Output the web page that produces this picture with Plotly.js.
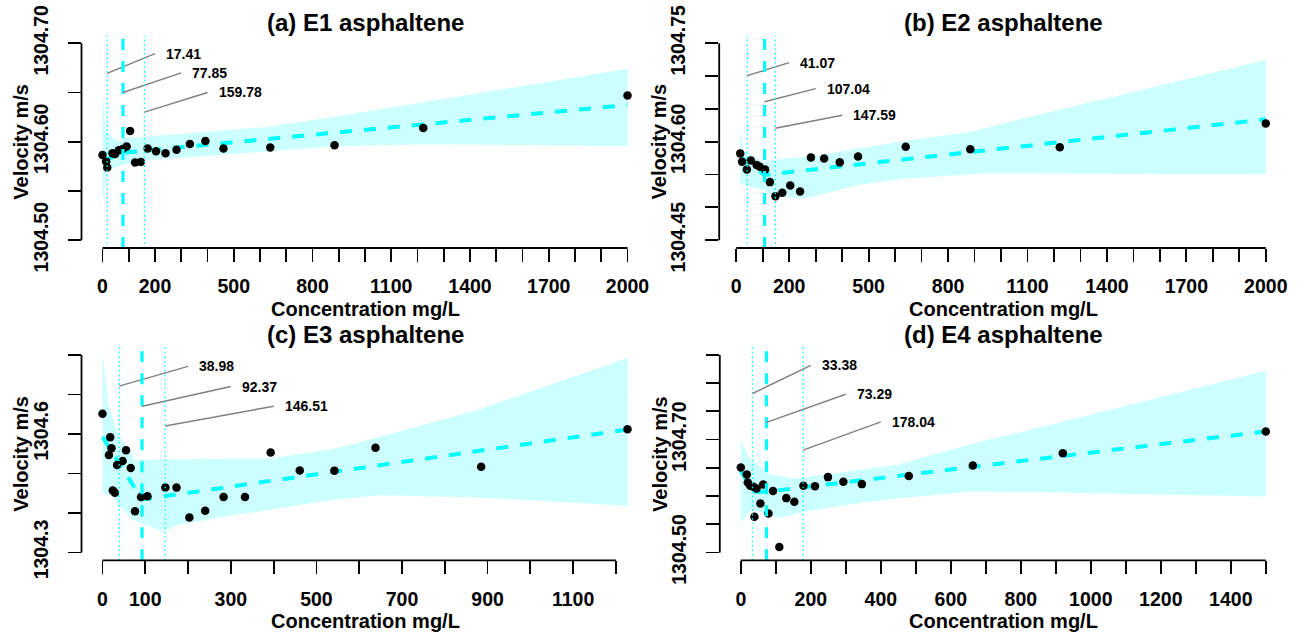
<!DOCTYPE html>
<html><head><meta charset="utf-8">
<script src="https://cdn.plot.ly/plotly-3.0.1.min.js"></script>
<style>html,body{margin:0;padding:0;background:#fff}#chart{width:1300px;height:636px}</style>
</head><body><div id="chart"></div>
<script>
// ---------- DATA ----------
// (a) E1
const concE1 = [0, 14, 18, 38, 48, 62, 77, 92, 105, 124, 146, 172, 204, 240, 282, 333, 392, 461, 639, 884, 1222, 2000];
const velE1  = [1304.5864, 1304.5800, 1304.5739, 1304.5882, 1304.5874, 1304.5912, 1304.5925, 1304.5952, 1304.6108, 1304.5788, 1304.5795, 1304.5932, 1304.5903, 1304.5882, 1304.5918, 1304.5976, 1304.6007, 1304.5930, 1304.5942, 1304.5965, 1304.6140, 1304.6470];
const fitXE1 = [0, 77.85, 2000];
const fitYE1 = [1304.5806, 1304.5888, 1304.6373];
const upXE1 = [0, 13, 40, 75, 80, 155, 625, 880, 1060, 2000];
const upYE1 = [1304.649, 1304.612, 1304.604, 1304.600, 1304.604, 1304.605, 1304.615, 1304.625, 1304.633, 1304.674];
const loXE1 = [0, 16, 79, 160, 625, 880, 1240, 2000];
const loYE1 = [1304.5356, 1304.571, 1304.5765, 1304.581, 1304.590, 1304.5955, 1304.5975, 1304.5956];
const bpE1 = [17.41, 77.85, 159.78];

// (b) E2
const concE2 = [15, 22, 40, 55, 77, 89, 109, 127, 148, 174, 204, 241, 282, 332, 391, 460, 640, 884, 1222, 2000];
const velE2  = [1304.5822, 1304.5694, 1304.5578, 1304.5715, 1304.5644, 1304.5618, 1304.5578, 1304.5384, 1304.5170, 1304.5221, 1304.5334, 1304.5242, 1304.5761, 1304.5745, 1304.5685, 1304.5773, 1304.5923, 1304.5885, 1304.5914, 1304.6278];
const fitXE2 = [15, 107.04, 2000];
const fitYE2 = [1304.577, 1304.5495, 1304.6341];
const upXE2 = [15, 27, 100, 146, 285, 620, 900, 1000, 2000];
const upYE2 = [1304.623, 1304.587, 1304.570, 1304.573, 1304.578, 1304.600, 1304.616, 1304.627, 1304.7245];
const loXE2 = [15, 52, 100, 146, 250, 290, 460, 640, 930, 2000];
const loYE2 = [1304.536, 1304.531, 1304.527, 1304.517, 1304.514, 1304.516, 1304.534, 1304.544, 1304.5517, 1304.5506];
const bpE2 = [41.07, 107.04, 147.59];

// (c) E3
const concE3 = [0, 15, 18, 21, 24, 29, 34, 47, 55, 66, 76, 90, 105, 147, 173, 203, 240, 283, 333, 393, 461, 542, 638, 885, 1227];
const velE3  = [1304.6512, 1304.5466, 1304.5913, 1304.5635, 1304.4568, 1304.4513, 1304.5213, 1304.5314, 1304.5585, 1304.5137, 1304.4041, 1304.4403, 1304.4421, 1304.4645, 1304.4640, 1304.3886, 1304.4053, 1304.4403, 1304.4403, 1304.5530, 1304.5074, 1304.5070, 1304.5652, 1304.5166, 1304.6120];
const fitXE3 = [0, 92.37, 1227];
const fitYE3 = [1304.5925, 1304.4341, 1304.6112];
const upXE3 = [0, 9, 14, 23, 29, 45, 68, 75, 92, 150, 390, 540, 650, 880, 1227];
const upYE3 = [1304.806, 1304.716, 1304.668, 1304.645, 1304.618, 1304.584, 1304.551, 1304.534, 1304.534, 1304.535, 1304.538, 1304.562, 1304.593, 1304.662, 1304.792];
const loXE3 = [0, 22, 37, 53, 68, 88, 134, 146, 175, 282, 540, 650, 880, 1227];
const loYE3 = [1304.448, 1304.446, 1304.420, 1304.403, 1304.384, 1304.375, 1304.356, 1304.355, 1304.369, 1304.390, 1304.433, 1304.445, 1304.439, 1304.418];
const bpE3 = [38.98, 92.37, 146.51];

// (d) E4
const concE4 = [0, 17, 20, 27, 36, 39, 45, 56, 64, 79, 92, 110, 130, 153, 179, 212, 249, 293, 346, 480, 663, 920, 1500];
const velE4  = [1304.6506, 1304.6382, 1304.6240, 1304.6180, 1304.6162, 1304.5631, 1304.6134, 1304.5868, 1304.6205, 1304.5688, 1304.6088, 1304.5097, 1304.5962, 1304.5896, 1304.6180, 1304.6171, 1304.6334, 1304.6251, 1304.6210, 1304.6355, 1304.6538, 1304.6759, 1304.7143];
const fitXE4 = [0, 41, 73.29, 1500];
const fitYE4 = [1304.6435, 1304.6074, 1304.6074, 1304.7144];
const upXE4 = [0, 26, 64, 74, 112, 150, 180, 445, 669, 826, 1500];
const upYE4 = [1304.698, 1304.666, 1304.648, 1304.640, 1304.635, 1304.631, 1304.633, 1304.655, 1304.694, 1304.717, 1304.822];
const loXE4 = [0, 30, 55, 109, 180, 350, 455, 660, 826, 1500];
const loYE4 = [1304.553, 1304.575, 1304.572, 1304.561, 1304.572, 1304.589, 1304.596, 1304.608, 1304.607, 1304.599];
const bpE4 = [33.38, 73.29, 178.04];

// tick labels
const xLabE1 = [0, 200, 500, 800, 1100, 1400, 1700, 2000];
const xLabE2 = [0, 200, 500, 800, 1100, 1400, 1700, 2000];
const xLabE3 = [0, 100, 300, 500, 700, 900, 1100];
const xLabE4 = [0, 200, 400, 600, 800, 1000, 1200, 1400];
const yLabE1 = [1304.50, 1304.60, 1304.70];
const yLabE2 = [1304.45, 1304.60, 1304.75];
const yLabE3 = [1304.3, 1304.6];
const yLabE4 = [1304.50, 1304.70];

const titles = ['(a) E1 asphaltene', '(b) E2 asphaltene', '(c) E3 asphaltene', '(d) E4 asphaltene'];
const xTitle = 'Concentration mg/L';
const yTitle = 'Velocity m/s';

// ---------- LAYOUT (pixel geometry of the panels) ----------
const W = 1300, H = 636;
const FONT = 'Liberation Sans, Arial, Helvetica, sans-serif';
const panels = [
  {conc: concE1, vel: velE1, fx: fitXE1, fy: fitYE1, ux: upXE1, uy: upYE1, lx: loXE1, ly: loYE1, bp: bpE1,
   xlim: [0, 2000], xTickMax: 2000, xLab: xLabE1, ylim: [1304.50, 1304.70], yStep: 0.05, yLab: yLabE1, dec: 2,
   box: [81.5, 648.5, 35.4, 248.0], segY: [1304.6695, 1304.650, 1304.630], rise: 0.02},
  {conc: concE2, vel: velE2, fx: fitXE2, fy: fitYE2, ux: upXE2, uy: upYE2, lx: loXE2, ly: loYE2, bp: bpE2,
   xlim: [15, 2000], xTickMax: 2000, xLab: xLabE2, ylim: [1304.45, 1304.75], yStep: 0.05, yLab: yLabE2, dec: 2,
   box: [719.2, 1286.8, 35.4, 248.0], segY: [1304.7006, 1304.6609, 1304.6204], rise: 0.02},
  {conc: concE3, vel: velE3, fx: fitXE3, fy: fitYE3, ux: upXE3, uy: upYE3, lx: loXE3, ly: loYE3, bp: bpE3,
   xlim: [0, 1227], xTickMax: 1200, xLab: xLabE3, ylim: [1304.3, 1304.8], yStep: 0.1, yLab: yLabE3, dec: 1,
   box: [81.5, 648.5, 347.0, 560.3], segY: [1304.7208, 1304.670, 1304.620], rise: 0.05},
  {conc: concE4, vel: velE4, fx: fitXE4, fy: fitYE4, ux: upXE4, uy: upYE4, lx: loXE4, ly: loYE4, bp: bpE4,
   xlim: [0, 1500], xTickMax: 1500, xLab: xLabE4, ylim: [1304.50, 1304.85], yStep: 0.05, yLab: yLabE4, dec: 2,
   box: [719.8, 1286.8, 347.0, 560.3], segY: [1304.7816, 1304.7303, 1304.6812], rise: 0.05}
];
const segEndX = [200, 300, 400];

const traces = [], shapes = [], annotations = [];
const layout = {
  width: W, height: H, margin: {l: 0, r: 0, t: 0, b: 0},
  paper_bgcolor: '#fff', plot_bgcolor: '#fff', showlegend: false,
  font: {family: FONT, color: '#000'}
};

panels.forEach((p, i) => {
  const n = i === 0 ? '' : String(i + 1);
  const xa = 'x' + n, ya = 'y' + n;
  const padX = 0.04 * (p.xlim[1] - p.xlim[0]);
  const padY = 0.04 * (p.ylim[1] - p.ylim[0]);
  const xtv = [], xtt = [];
  for (let v = 0; v <= p.xTickMax + 1e-9; v += 100) { xtv.push(v); xtt.push(p.xLab.includes(v) ? String(v) : ''); }
  const ytv = [], ytt = [];
  const nY = Math.round((p.ylim[1] - p.ylim[0]) / p.yStep);
  for (let k = 0; k <= nY; k++) {
    const v = +(p.ylim[0] + k * p.yStep).toFixed(4);
    ytv.push(v);
    ytt.push(p.yLab.some(l => Math.abs(l - v) < 1e-6) ? v.toFixed(p.dec) : '');
  }
  const [L, R, T, B] = p.box;
  layout['xaxis' + n] = {
    domain: [L / W, R / W], range: [p.xlim[0] - padX, p.xlim[1] + padX], anchor: ya,
    tickmode: 'array', tickvals: xtv, ticktext: xtt, ticks: 'outside', ticklen: 13, tickwidth: 1.8, tickcolor: '#000',
    showline: false, showgrid: false, zeroline: false, ticklabelstandoff: 8,
    tickfont: {family: FONT, size: 19.5, weight: 'bold', color: '#000'}, fixedrange: true
  };
  layout['yaxis' + n] = {
    domain: [1 - B / H, 1 - T / H], range: [p.ylim[0] - padY, p.ylim[1] + padY], anchor: xa,
    tickmode: 'array', tickvals: ytv, ticktext: ytt, ticks: 'outside', ticklen: 13, tickwidth: 1.8, tickcolor: '#000',
    showline: false, showgrid: false, zeroline: false, tickangle: -90, ticklabelstandoff: 12,
    tickfont: {family: FONT, size: 19.5, weight: 'bold', color: '#000'}, fixedrange: true
  };
  // confidence band
  traces.push({x: p.ux.concat(p.lx.slice().reverse()), y: p.uy.concat(p.ly.slice().reverse()),
    xaxis: xa, yaxis: ya, mode: 'lines', line: {width: 0, color: 'rgba(0,0,0,0)'}, fill: 'toself', fillcolor: '#CCFFFF', hoverinfo: 'skip'});
  // fitted segmented line
  traces.push({x: p.fx, y: p.fy, xaxis: xa, yaxis: ya, mode: 'lines',
    line: {color: '#00FFFF', width: 4, dash: '12px,12px'}, hoverinfo: 'skip'});
  // points
  traces.push({x: p.conc, y: p.vel, xaxis: xa, yaxis: ya, mode: 'markers',
    marker: {color: '#000', size: 8.5, line: {width: 0}}});
  // breakpoint & CI vertical lines
  p.bp.forEach((b, k) => {
    shapes.push({type: 'line', xref: xa, yref: ya + ' domain', x0: b, x1: b, y0: 0, y1: 1,
      line: {color: '#00FFFF', width: k === 1 ? 3.2 : 1.3, dash: k === 1 ? '11px,11px' : '1.5px,3px'}});
    // label leader segment
    shapes.push({type: 'line', xref: xa, yref: ya, x0: b, y0: p.segY[k], x1: segEndX[k], y1: p.segY[k] + p.rise,
      line: {color: '#808080', width: 1.4}});
    annotations.push({xref: xa, yref: ya, x: segEndX[k], y: p.segY[k] + p.rise, text: b.toFixed(2),
      showarrow: false, xanchor: 'left', yanchor: 'middle', xshift: 9,
      font: {family: FONT, size: 14, weight: 'bold', color: '#000'}});
  });
  // R-style axis lines (span first..last tick only)
  shapes.push({type: 'line', xref: xa, yref: ya + ' domain', x0: xtv[0], x1: xtv[xtv.length - 1], y0: 0, y1: 0,
    line: {color: '#000', width: 1.8}});
  shapes.push({type: 'line', xref: xa + ' domain', yref: ya, x0: 0, x1: 0, y0: ytv[0], y1: ytv[ytv.length - 1],
    line: {color: '#000', width: 1.8}});
  // titles
  const cx = (L + R) / 2;
  annotations.push({xref: 'paper', yref: 'paper', x: cx / W, y: 1 - (T - 12.5) / H, text: titles[i], showarrow: false,
    xanchor: 'center', yanchor: 'middle', font: {family: FONT, size: 24, weight: 'bold', color: '#000'}});
  annotations.push({xref: 'paper', yref: 'paper', x: cx / W, y: 1 - (B + 60.5) / H, text: xTitle, showarrow: false,
    xanchor: 'center', yanchor: 'middle', font: {family: FONT, size: 20, weight: 'bold', color: '#000'}});
  annotations.push({xref: 'paper', yref: 'paper', x: (L - 60.5) / W, y: 1 - ((T + B) / 2) / H, text: yTitle, showarrow: false,
    textangle: -90, xanchor: 'center', yanchor: 'middle', font: {family: FONT, size: 20, weight: 'bold', color: '#000'}});
});

layout.shapes = shapes;
layout.annotations = annotations;
Plotly.newPlot('chart', traces, layout, {displayModeBar: false, staticPlot: true});
</script></body></html>
